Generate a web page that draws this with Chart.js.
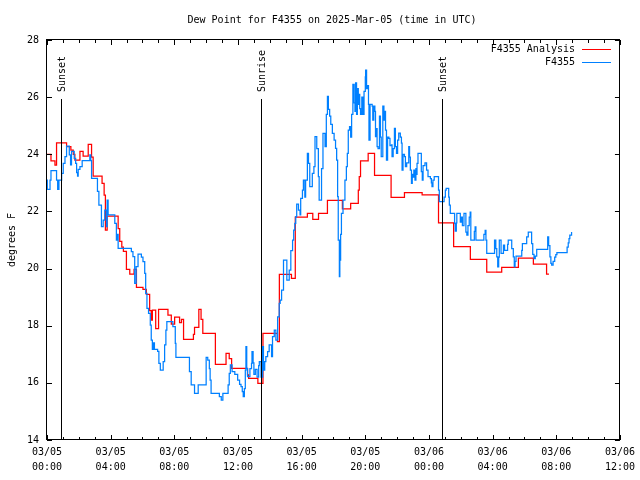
<!DOCTYPE html>
<html>
<head>
<meta charset="utf-8">
<title>Dew Point for F4355</title>
<script src="https://cdn.jsdelivr.net/npm/chart.js@4.4.1/dist/chart.umd.min.js"></script>
<style>
  html, body { margin: 0; padding: 0; background: #fff; }
  #dewChart { display: block; }
</style>
</head>
<body>
<canvas id="dewChart" width="640" height="480"></canvas>
<script>
// x values are hours since 2025-03-05 00:00 UTC
const analysisHours = [
    0, 0.25, 0.5, 0.6, 1.23, 1.5, 1.65, 1.75, 2.07, 2.27,
    2.59, 2.8, 2.9, 3.46, 3.59, 3.67, 3.78, 4.47, 4.57, 4.7,
    4.8, 4.99, 5.2, 5.47, 5.62, 6.03, 6.24, 6.45, 6.55, 6.62,
    6.83, 7.01, 7.6, 7.81, 8.02, 8.33, 8.45, 8.58, 9.2, 9.27,
    9.54, 9.68, 9.79, 10.58, 11.25, 11.45, 11.6, 12.6, 12.67, 13.25,
    13.57, 14.48, 14.6, 15.36, 15.6, 16.36, 16.7, 17.06, 17.62, 18.56,
    19.08, 19.56, 19.62, 19.7, 20.18, 20.58, 21.62, 22.46, 23.57, 24.6,
    25.55, 26.6, 27.63, 28.57, 29.62, 30.56, 31.39, 31.54
];
const analysisValues = [
    24.0, 23.77, 23.62, 24.4, 24.27, 24.15, 24.0, 23.8, 24.1, 23.94,
    24.35, 23.9, 23.24, 22.98, 22.57, 21.35, 21.84, 21.4, 20.95, 20.75,
    20.6, 19.97, 19.81, 19.97, 19.34, 19.27, 19.1, 18.53, 18.2, 18.55,
    17.9, 18.57, 18.37, 18.06, 18.3, 18.11, 18.22, 17.52, 17.7, 17.94,
    18.57, 18.22, 17.73, 16.65, 17.03, 16.85, 16.51, 16.28, 16.16, 15.98,
    17.73, 17.44, 19.8, 19.66, 21.8, 21.93, 21.72, 21.93, 22.39, 22.09,
    22.28, 22.75, 23.22, 23.77, 24.03, 23.26, 22.49, 22.66, 22.58, 21.6,
    20.77, 20.32, 19.88, 20.04, 20.37, 20.16, 19.81, 19.81
];

const obsHours = [
    0, 0.02, 0.19, 0.25, 0.6, 0.67, 0.75, 0.92, 1.02, 1.13,
    1.23, 1.4, 1.48, 1.54, 1.71, 1.8, 1.86, 1.92, 1.96, 2.07,
    2.21, 2.69, 2.75, 2.8, 3.17, 3.26, 3.42, 3.53, 3.63, 3.74,
    3.78, 3.84, 4.26, 4.36, 4.42, 4.47, 5.3, 5.4, 5.51, 5.6,
    5.72, 5.93, 6.03, 6.14, 6.2, 6.28, 6.38, 6.49, 6.55, 6.62,
    6.68, 6.75, 6.95, 7.03, 7.12, 7.3, 7.39, 7.47, 7.53, 7.91,
    8.06, 8.1, 8.95, 9.06, 9.27, 9.5, 10.0, 10.1, 10.2, 10.25,
    10.31, 10.83, 10.95, 11.05, 11.38, 11.45, 11.52, 11.63, 11.8, 11.98,
    12.1, 12.19, 12.27, 12.33, 12.4, 12.46, 12.5, 12.55, 12.6, 12.75,
    12.85, 12.88, 12.95, 13.0, 13.09, 13.2, 13.3, 13.34, 13.45, 13.55,
    13.6, 13.68, 13.75, 13.86, 13.96, 14.11, 14.17, 14.28, 14.38, 14.49,
    14.59, 14.65, 14.74, 14.86, 15.07, 15.22, 15.32, 15.43, 15.5, 15.57,
    15.63, 15.69, 15.8, 15.9, 15.94, 16.05, 16.11, 16.2, 16.25, 16.36,
    16.43, 16.51, 16.67, 16.77, 16.84, 16.95, 17.05, 17.1, 17.25, 17.34,
    17.47, 17.55, 17.62, 17.68, 17.76, 17.83, 17.93, 18.04, 18.13, 18.2,
    18.26, 18.3, 18.37, 18.4, 18.45, 18.5, 18.6, 18.72, 18.81, 18.87,
    18.93, 19.01, 19.08, 19.14, 19.22, 19.3, 19.35, 19.39, 19.45, 19.5,
    19.56, 19.6, 19.65, 19.7, 19.78, 19.85, 19.92, 20.0, 20.02, 20.08,
    20.14, 20.2, 20.23, 20.3, 20.43, 20.47, 20.53, 20.6, 20.64, 20.7,
    20.74, 20.8, 20.89, 20.95, 21.0, 21.1, 21.17, 21.22, 21.27, 21.33,
    21.4, 21.48, 21.55, 21.64, 21.68, 21.75, 21.83, 21.89, 21.96, 22.03,
    22.1, 22.2, 22.27, 22.31, 22.37, 22.46, 22.52, 22.6, 22.73, 22.78,
    22.83, 22.9, 22.95, 23.0, 23.05, 23.12, 23.18, 23.21, 23.25, 23.31,
    23.52, 23.58, 23.63, 23.75, 23.85, 23.94, 24.09, 24.15, 24.19, 24.25,
    24.33, 24.6, 24.65, 24.95, 25.03, 25.08, 25.24, 25.28, 25.34, 25.61,
    25.65, 25.72, 25.75, 25.97, 26.05, 26.1, 26.2, 26.32, 26.38, 26.45,
    26.53, 26.59, 26.63, 26.85, 26.9, 26.95, 27.45, 27.53, 27.58, 27.63,
    28.12, 28.2, 28.26, 28.32, 28.38, 28.42, 28.53, 28.68, 28.75, 28.94,
    28.98, 29.2, 29.3, 29.36, 29.41, 29.47, 29.83, 29.87, 30.14, 30.24,
    30.45, 30.52, 30.6, 30.68, 30.77, 31.46, 31.52, 31.6, 31.66, 31.71,
    31.8, 31.9, 31.97, 32.04, 32.68, 32.75, 32.8, 32.85, 32.96
];
const obsValues = [
    23.1, 22.77, 23.1, 23.43, 23.1, 22.77, 23.1, 23.33, 23.68, 23.92,
    24.29, 23.98, 23.63, 24.1, 23.86, 23.68, 23.36, 23.24, 23.47, 23.57,
    23.78, 23.98, 23.78, 23.16, 22.7, 22.22, 21.47, 21.7, 22.05, 21.47,
    22.4, 21.88, 21.58, 21.0, 21.2, 20.71, 20.59, 20.42, 19.48, 20.07,
    20.51, 20.4, 20.24, 19.83, 19.13, 18.61, 18.43, 18.02, 17.5, 17.17,
    17.4, 17.17, 17.1, 16.68, 16.45, 16.74, 17.33, 17.85, 18.14, 17.97,
    17.38, 16.89, 16.39, 15.93, 15.63, 15.93, 16.89, 16.8, 16.5, 16.1,
    15.63, 15.52, 15.4, 15.63, 15.93, 16.33, 16.63, 16.39, 16.3, 16.1,
    15.95, 15.87, 15.69, 15.52, 15.8, 16.45, 17.27, 16.5, 16.22, 16.5,
    16.68, 17.09, 16.7, 16.3, 16.47, 16.2, 16.6, 16.74, 16.2, 17.27,
    16.45, 16.74, 16.92, 17.09, 17.33, 16.92, 17.62, 17.85, 17.5, 18.31,
    18.78, 18.9, 19.25, 20.3, 19.6, 19.95, 20.63, 21.0, 21.35, 21.58,
    21.82, 22.26, 22.05, 21.88, 22.46, 22.75, 23.1, 22.5, 23.1, 24.03,
    23.68, 22.87, 23.33, 23.57, 24.62, 24.2, 23.22, 22.4, 23.5, 24.73,
    24.27, 25.4, 26.03, 25.57, 25.34, 25.05, 24.73, 24.5, 24.21, 23.8,
    22.52, 21.0, 19.72, 20.3, 21.2, 21.93, 22.4, 23.1, 23.57, 24.03,
    24.85, 24.97, 24.6, 25.4, 26.45, 25.8, 25.5, 26.5, 25.4, 26.3,
    25.75, 26.1, 25.6, 25.4, 26.0, 25.4, 26.2, 26.71, 26.95, 26.3,
    26.4, 25.75, 24.5, 25.75, 25.69, 25.2, 25.69, 25.5, 24.62, 24.9,
    24.27, 24.2, 25.34, 24.6, 23.92, 25.69, 25.2, 25.5, 24.85, 23.8,
    24.6, 24.56, 24.3, 24.33, 23.92, 24.2, 24.91, 24.27, 24.03, 24.5,
    24.74, 24.6, 24.39, 23.45, 24.0, 23.92, 23.57, 23.7, 24.27, 23.9,
    23.45, 22.98, 23.3, 23.2, 23.45, 23.1, 23.5, 23.3, 23.68, 24.03,
    23.39, 23.1, 23.6, 23.7, 23.45, 23.22, 23.15, 23.0, 22.87, 23.1,
    23.22, 22.75, 22.34, 22.5, 22.75, 22.81, 22.5, 22.22, 21.93, 21.58,
    21.31, 21.6, 21.93, 21.63, 21.8, 21.5, 21.93, 21.28, 21.17, 21.5,
    21.8, 21.98, 21.0, 21.3, 21.46, 21.0, 21.2, 21.34, 21.0, 20.53,
    21.0, 20.7, 20.41, 20.06, 20.4, 21.0, 20.53, 20.82, 20.64, 20.85,
    21.0, 20.7, 20.41, 20.06, 20.25, 20.44, 20.64, 20.87, 21.11, 21.28,
    20.87, 20.5, 20.35, 20.44, 20.67, 21.11, 20.8, 20.41, 20.18, 20.12,
    20.25, 20.4, 20.49, 20.56, 20.75, 20.9, 21.05, 21.17, 21.28
];

const sunHours = [0.88, 13.46, 24.8];
const sunLabels = ['Sunset', 'Sunrise', 'Sunset'];

const xTickHours = [0, 4, 8, 12, 16, 20, 24, 28, 32, 36];
const xTickDates = ['03/05', '03/05', '03/05', '03/05', '03/05', '03/05', '03/06', '03/06', '03/06', '03/06'];
const xTickTimes = ['00:00', '04:00', '08:00', '12:00', '16:00', '20:00', '00:00', '04:00', '08:00', '12:00'];
const yTicks = [14, 16, 18, 20, 22, 24, 26, 28];

const seriesNames = ['F4355 Analysis', 'F4355'];
const seriesColors = ['#ff0000', '#0080ff'];

const fontFamily = '"DejaVu Sans Mono", "Liberation Mono", monospace';
const textFont = '10px ' + fontFamily;

function toPoints(xs, ys) {
    return xs.map((h, i) => ({ x: h, y: ys[i] }));
}

// gnuplot-like frame: border, inward ticks, sun markers, legend, titles
const gnuFrame = {
    id: 'gnuFrame',
    afterDatasetsDraw(chart) {
        const ctx = chart.ctx;
        const a = chart.chartArea;
        const x = chart.scales.x;
        const y = chart.scales.y;
        const px = v => Math.round(v) + 0.5;

        ctx.save();
        ctx.strokeStyle = '#000';
        ctx.fillStyle = '#000';
        ctx.lineWidth = 1;
        ctx.font = textFont;

        ctx.beginPath();
        for (let h = 0; h <= 36; h++) {
            const X = px(x.getPixelForValue(h));
            const len = h % 4 === 0 ? 5 : 3;
            ctx.moveTo(X, a.bottom);
            ctx.lineTo(X, a.bottom - len);
            ctx.moveTo(X, a.top);
            ctx.lineTo(X, a.top + len);
        }
        yTicks.forEach(v => {
            const Y = px(y.getPixelForValue(v));
            ctx.moveTo(a.left, Y);
            ctx.lineTo(a.left + 5, Y);
            ctx.moveTo(a.right, Y);
            ctx.lineTo(a.right - 5, Y);
        });
        ctx.stroke();

        ctx.strokeRect(px(a.left) - 1, px(a.top) - 1, Math.round(a.right - a.left), Math.round(a.bottom - a.top));

        // sunrise / sunset markers
        sunHours.forEach((h, i) => {
            const X = px(x.getPixelForValue(h));
            ctx.beginPath();
            ctx.moveTo(X, a.top + 59);
            ctx.lineTo(X, a.bottom);
            ctx.stroke();
            ctx.save();
            ctx.translate(X + 1, a.top + 52);
            ctx.rotate(-Math.PI / 2);
            ctx.textAlign = 'left';
            ctx.textBaseline = 'middle';
            ctx.fillText(sunLabels[i], 0, 0);
            ctx.restore();
        });

        // legend
        ctx.textAlign = 'right';
        ctx.textBaseline = 'middle';
        seriesNames.forEach((name, i) => {
            const ly = 49.5 + 13 * i;
            ctx.fillStyle = '#000';
            ctx.fillText(name, 575, ly);
            ctx.strokeStyle = seriesColors[i];
            ctx.beginPath();
            ctx.moveTo(582, ly);
            ctx.lineTo(611, ly);
            ctx.stroke();
        });

        // title and y axis title
        ctx.fillStyle = '#000';
        ctx.textAlign = 'center';
        ctx.fillText('Dew Point for F4355 on 2025-Mar-05 (time in UTC)', 332, 20);
        ctx.save();
        ctx.translate(12, 240);
        ctx.rotate(-Math.PI / 2);
        ctx.fillText('degrees F', 0, 0);
        ctx.restore();

        ctx.restore();
    }
};

new Chart(document.getElementById('dewChart'), {
    type: 'line',
    data: {
        datasets: [
            {
                label: seriesNames[0],
                data: toPoints(analysisHours, analysisValues),
                borderColor: seriesColors[0],
                borderWidth: 1.25,
                pointRadius: 0,
                stepped: true,
                fill: false,
                order: 1
            },
            {
                label: seriesNames[1],
                data: toPoints(obsHours, obsValues),
                borderColor: seriesColors[1],
                borderWidth: 1.25,
                pointRadius: 0,
                stepped: true,
                fill: false,
                order: 0
            }
        ]
    },
    options: {
        responsive: false,
        animation: false,
        layout: { padding: { top: 40, right: 18, left: 0, bottom: 0 } },
        plugins: {
            legend: { display: false },
            title: { display: false },
            tooltip: { enabled: false }
        },
        scales: {
            x: {
                type: 'linear',
                min: 0,
                max: 36,
                grid: { display: false, drawTicks: false },
                border: { display: false },
                afterBuildTicks: scale => { scale.ticks = xTickHours.map(v => ({ value: v })); },
                afterFit: scale => { scale.height = 40; },
                ticks: {
                    autoSkip: false,
                    maxRotation: 0,
                    minRotation: 0,
                    padding: 5,
                    color: '#000',
                    font: { family: fontFamily, size: 10, lineHeight: 1.5 },
                    callback: value => {
                        const i = xTickHours.indexOf(value);
                        return i >= 0 ? [xTickDates[i], xTickTimes[i]] : '';
                    }
                }
            },
            y: {
                type: 'linear',
                min: 14,
                max: 28,
                grid: { display: false, drawTicks: false },
                border: { display: false },
                afterBuildTicks: scale => { scale.ticks = yTicks.map(v => ({ value: v })); },
                afterFit: scale => { scale.width = 47; },
                ticks: {
                    padding: 8,
                    color: '#000',
                    font: { family: fontFamily, size: 10 }
                }
            }
        }
    },
    plugins: [gnuFrame]
});
</script>
</body>
</html>
